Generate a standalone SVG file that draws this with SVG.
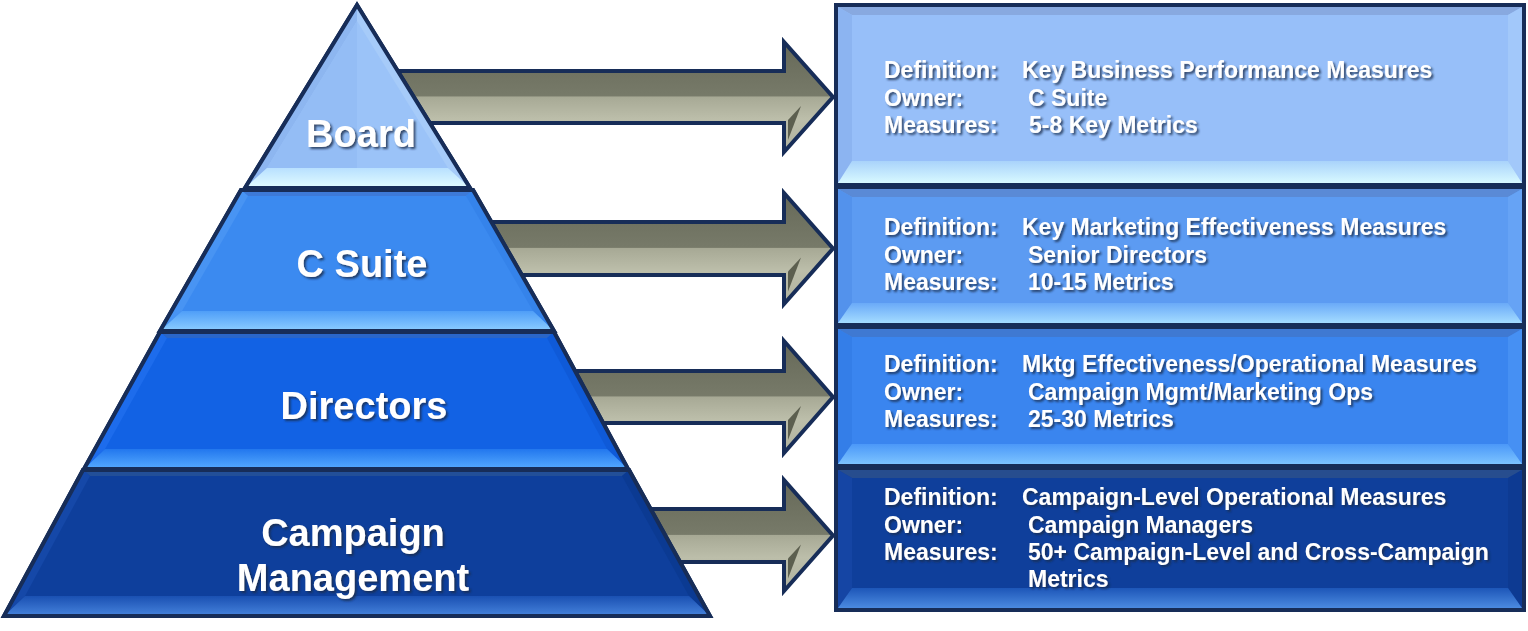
<svg xmlns="http://www.w3.org/2000/svg" width="1528" height="631" viewBox="0 0 1528 631">
<style>
.ol{stroke:#172d58;stroke-width:4;stroke-linejoin:miter}
.fc{stroke:none}
.ptxt{font-family:"Liberation Sans",Arial,sans-serif;font-weight:bold;font-size:38px;fill:#ffffff;text-anchor:middle;filter:url(#ts)}
.btxt{font-family:"Liberation Sans",Arial,sans-serif;font-weight:bold;font-size:23px;fill:#ffffff;filter:url(#ts)}
.arw{fill:url(#arrowG);stroke:#172d58;stroke-width:4;stroke-linejoin:miter}
.arwf{fill:#5c5f4f}
</style>
<defs>
<filter id="ts" x="-10%" y="-30%" width="120%" height="160%">
<feDropShadow dx="2" dy="2" stdDeviation="1.2" flood-color="#1b2a48" flood-opacity="0.8"/>
</filter>
<linearGradient id="arrowG" x1="0" y1="0" x2="0" y2="1">
<stop offset="0" stop-color="#666958"/>
<stop offset="0.49" stop-color="#777a69"/>
<stop offset="0.5" stop-color="#a7a995"/>
<stop offset="0.7" stop-color="#bcbeaa"/>
<stop offset="1" stop-color="#b0b29e"/>
</linearGradient>
<linearGradient id="bot1" x1="0" y1="0" x2="0" y2="1"><stop offset="0" stop-color="#a9d3fb"/><stop offset="1" stop-color="#d8f9ff"/></linearGradient>
<linearGradient id="bot2" x1="0" y1="0" x2="0" y2="1"><stop offset="0" stop-color="#6aaaf8"/><stop offset="1" stop-color="#a4dcff"/></linearGradient>
<linearGradient id="bot3" x1="0" y1="0" x2="0" y2="1"><stop offset="0" stop-color="#4b98f8"/><stop offset="1" stop-color="#7cc3ff"/></linearGradient>
<linearGradient id="bot4" x1="0" y1="0" x2="0" y2="1"><stop offset="0" stop-color="#1d56b8"/><stop offset="1" stop-color="#4b8ae0"/></linearGradient>
<linearGradient id="pbot1" x1="0" y1="0" x2="0" y2="1"><stop offset="0" stop-color="#b8e0ff"/><stop offset="1" stop-color="#e2fcff"/></linearGradient>
<linearGradient id="pbot2" x1="0" y1="0" x2="0" y2="1"><stop offset="0" stop-color="#4f9ef8"/><stop offset="1" stop-color="#8ccdff"/></linearGradient>
<linearGradient id="pbot3" x1="0" y1="0" x2="0" y2="1"><stop offset="0" stop-color="#2277ee"/><stop offset="1" stop-color="#55aaff"/></linearGradient>
<linearGradient id="pbot4" x1="0" y1="0" x2="0" y2="1"><stop offset="0" stop-color="#1a50b2"/><stop offset="1" stop-color="#4683dc"/></linearGradient>
</defs>

<g id="connectors">
<g id="arrow-board">
<path class="arw" d="M380,71 L784,71 L784,42 L833,97 L784,152 L784,123 L380,123 Z"/>
<polygon class="arwf" points="788,120 801,106 788,140"/>
</g>
<g id="arrow-csuite">
<path class="arw" d="M420,222 L784,222 L784,193 L833,248.5 L784,304 L784,275 L420,275 Z"/>
<polygon class="arwf" points="788,271.5 801,257.5 788,291.5"/>
</g>
<g id="arrow-directors">
<path class="arw" d="M540,371 L784,371 L784,341 L833,397 L784,453 L784,423 L540,423 Z"/>
<polygon class="arwf" points="788,420 801,406 788,440"/>
</g>
<g id="arrow-campaign">
<path class="arw" d="M600,509 L784,509 L784,480 L833,535.5 L784,591 L784,562 L600,562 Z"/>
<polygon class="arwf" points="788,558.5 801,544.5 788,578.5"/>
</g>
</g>

<g id="pyramid-campaign">
<polygon class="ol" fill="#0e3f9c" points="83,470 629,470 710,616 4,616"/>
<polygon class="fc" fill="#224f98" points="83,470 629,470 622,476 90,476"/>
<polygon class="fc" fill="#1548a8" points="83,470 90,476 25,596 4,616"/>
<polygon class="fc" fill="#0b3a92" points="629,470 710,616 689,596 622,476"/>
<polygon class="fc" fill="url(#pbot4)" points="25,596 689,596 710,616 4,616"/>
<polygon fill="none" class="ol" points="83,470 629,470 710,616 4,616"/>
<text class="ptxt" x="353" y="546">Campaign</text>
<text class="ptxt" x="353" y="591">Management</text>
</g>

<g id="pyramid-directors">
<polygon class="ol" fill="#1262e4" points="160,332 554,332 628,469 84,469"/>
<polygon class="fc" fill="#2a66c8" points="160,332 554,332 547,338 167,338"/>
<polygon class="fc" fill="#1d6cec" points="160,332 167,338 105,449 84,469"/>
<polygon class="fc" fill="#0f5ad8" points="554,332 628,469 607,449 547,338"/>
<polygon class="fc" fill="url(#pbot3)" points="105,449 607,449 628,469 84,469"/>
<polygon fill="none" class="ol" points="160,332 554,332 628,469 84,469"/>
<text class="ptxt" x="364" y="419">Directors</text>
</g>

<g id="pyramid-csuite">
<polygon class="ol" fill="#3b8af0" points="241,190 473,190 554,331 160,331"/>
<polygon class="fc" fill="#3d7ad8" points="241,190 473,190 466,196 248,196"/>
<polygon class="fc" fill="#4894f3" points="241,190 248,196 182,311 160,331"/>
<polygon class="fc" fill="#3583ea" points="473,190 554,331 533,311 466,196"/>
<polygon class="fc" fill="url(#pbot2)" points="182,311 533,311 554,331 160,331"/>
<polygon fill="none" class="ol" points="241,190 473,190 554,331 160,331"/>
<text class="ptxt" x="362" y="277">C Suite</text>
</g>

<g id="pyramid-board">
<polygon class="ol" fill="#9bc3f8" points="357,5 470,188 245,188"/>
<polygon class="fc" fill="#8db6f0" points="357,5 357,21 267,168 245,188"/>
<polygon class="fc" fill="#a6cbf9" points="357,5 470,188 448,168 357,21"/>
<polygon class="fc" fill="#94bdf5" points="357,21 267,168 357,168"/>
<polygon class="fc" fill="url(#pbot1)" points="267,168 448,168 470,188 245,188"/>
<polygon fill="none" class="ol" points="357,5 470,188 245,188"/>
<text class="ptxt" x="361" y="147">Board</text>
</g>

<g id="box-board">
<rect class="ol" fill="#97bff9" x="836" y="5" width="688" height="180"/>
<polygon class="fc" fill="#88a9e0" points="838,7 1522,7 1508,15 852,15"/>
<polygon class="fc" fill="#8cb4f1" points="838,7 852,15 852,161 838,183"/>
<polygon class="fc" fill="#a2c8fa" points="1522,7 1522,183 1508,161 1508,15"/>
<polygon class="fc" fill="url(#bot1)" points="852,161 1508,161 1522,183 838,183"/>
<text class="btxt" x="884" y="78">Definition:</text>
<text class="btxt" x="1022" y="78">Key Business Performance Measures</text>
<text class="btxt" x="884" y="106">Owner:</text>
<text class="btxt" x="1028" y="106">C Suite</text>
<text class="btxt" x="884" y="133">Measures:</text>
<text class="btxt" x="1029" y="133">5-8 Key Metrics</text>
</g>

<g id="box-csuite">
<rect class="ol" fill="#5c9bf2" x="836" y="187" width="688" height="138"/>
<polygon class="fc" fill="#5a8ad6" points="838,189 1522,189 1508,197 852,197"/>
<polygon class="fc" fill="#5392ec" points="838,189 852,197 852,303 838,323"/>
<polygon class="fc" fill="#66a3f5" points="1522,189 1522,323 1508,303 1508,197"/>
<polygon class="fc" fill="url(#bot2)" points="852,303 1508,303 1522,323 838,323"/>
<text class="btxt" x="884" y="235">Definition:</text>
<text class="btxt" x="1022" y="235">Key Marketing Effectiveness Measures</text>
<text class="btxt" x="884" y="263">Owner:</text>
<text class="btxt" x="1028" y="263">Senior Directors</text>
<text class="btxt" x="884" y="290">Measures:</text>
<text class="btxt" x="1028" y="290">10-15 Metrics</text>
</g>

<g id="box-directors">
<rect class="ol" fill="#3a85ef" x="836" y="327" width="688" height="139"/>
<polygon class="fc" fill="#3f79d2" points="838,329 1522,329 1508,337 852,337"/>
<polygon class="fc" fill="#347ee8" points="838,329 852,337 852,444 838,464"/>
<polygon class="fc" fill="#4690f3" points="1522,329 1522,464 1508,444 1508,337"/>
<polygon class="fc" fill="url(#bot3)" points="852,444 1508,444 1522,464 838,464"/>
<text class="btxt" x="884" y="372">Definition:</text>
<text class="btxt" x="1022" y="372">Mktg Effectiveness/Operational Measures</text>
<text class="btxt" x="884" y="400">Owner:</text>
<text class="btxt" x="1028" y="400">Campaign Mgmt/Marketing Ops</text>
<text class="btxt" x="884" y="427">Measures:</text>
<text class="btxt" x="1028" y="427">25-30 Metrics</text>
</g>

<g id="box-campaign">
<rect class="ol" fill="#0f3f9b" x="836" y="468" width="688" height="142"/>
<polygon class="fc" fill="#274d8e" points="838,470 1522,470 1508,478 852,478"/>
<polygon class="fc" fill="#1545a4" points="838,470 852,478 852,588 838,608"/>
<polygon class="fc" fill="#0d3a92" points="1522,470 1522,608 1508,588 1508,478"/>
<polygon class="fc" fill="url(#bot4)" points="852,588 1508,588 1522,608 838,608"/>
<text class="btxt" x="884" y="505">Definition:</text>
<text class="btxt" x="1022" y="505">Campaign-Level Operational Measures</text>
<text class="btxt" x="884" y="533">Owner:</text>
<text class="btxt" x="1028" y="533">Campaign Managers</text>
<text class="btxt" x="884" y="560">Measures:</text>
<text class="btxt" x="1028" y="560">50+ Campaign-Level and Cross-Campaign</text>
<text class="btxt" x="1028" y="587">Metrics</text>
</g>
</svg>
